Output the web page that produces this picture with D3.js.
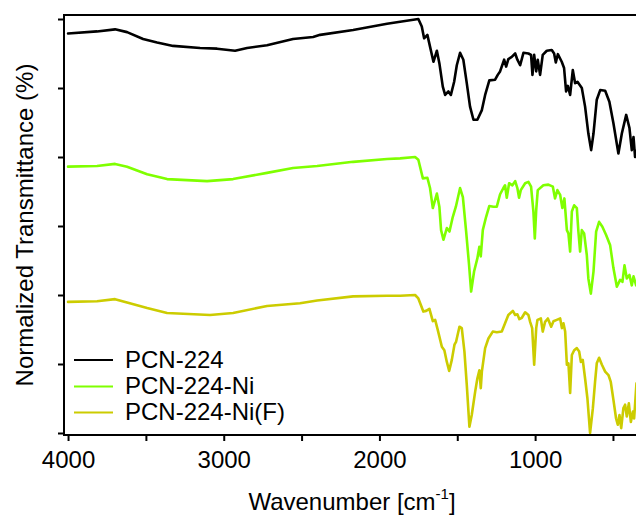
<!DOCTYPE html>
<html><head><meta charset="utf-8">
<script src="https://cdn.jsdelivr.net/npm/d3@7"></script>
<style>
body{margin:0;background:#fff}
svg{display:block}
text{font-family:"Liberation Sans",Arial,Helvetica,sans-serif;fill:#000}
</style>
</head><body>
<svg id="chart" width="636" height="516"></svg>
<script>
// ---- data ----
const seriesNames = ["PCN-224", "PCN-224-Ni", "PCN-224-Ni(F)"];
const seriesColors = ["#000000", "#7fff00", "#cccc00"];
const xMajorTicks = [4000, 3000, 2000, 1000];
const xMinorTicks = [3500, 2500, 1500, 500];
const yTicks = [0, 1, 2, 3, 4, 5, 6];

// [wavenumber (cm-1), normalized transmittance (offset units)]
const pcn224 = [
[4000,5.79],[3814,5.82],[3698,5.85],[3621,5.81],[3518,5.71],[3428,5.66],[3325,5.61],[3152,5.58],[3043,5.57],[2927,5.54],
[2850,5.58],[2722,5.62],[2555,5.71],[2426,5.74],[2381,5.77],[2169,5.84],[1951,5.93],[1867,5.96],[1750,6.00],[1728,5.89],
[1713,5.72],[1692,5.77],[1675,5.60],[1653,5.38],[1631,5.54],[1615,5.36],[1593,5.02],[1578,4.90],[1557,4.95],[1541,4.90],
[1520,5.09],[1503,5.33],[1482,5.51],[1461,5.41],[1439,5.07],[1418,4.73],[1396,4.54],[1371,4.54],[1342,4.68],[1321,4.90],
[1294,5.11],[1257,5.12],[1240,5.19],[1225,5.24],[1199,5.41],[1186,5.31],[1172,5.42],[1150,5.45],[1128,5.50],[1114,5.41],
[1096,5.33],[1075,5.51],[1043,5.50],[1026,5.48],[1017,5.19],[1006,5.48],[993,5.24],[983,5.41],[968,5.19],[951,5.48],
[925,5.54],[893,5.55],[878,5.50],[867,5.37],[854,5.49],[829,5.38],[814,5.29],[801,4.95],[790,5.03],[775,4.90],
[758,5.26],[743,5.07],[728,5.09],[700,5.00],[679,4.73],[658,4.34],[640,4.10],[625,4.34],[604,4.83],[582,4.97],
[550,4.96],[523,4.80],[497,4.49],[465,4.05],[443,4.34],[415,4.61],[394,4.42],[379,4.10],[368,4.29],[358,4.00],[345,4.10]
];
const pcn224Ni = [
[4000,3.86],[3814,3.87],[3698,3.90],[3621,3.86],[3492,3.75],[3364,3.68],[3107,3.65],[2940,3.68],[2722,3.77],[2555,3.84],
[2400,3.87],[2169,3.93],[1951,3.97],[1867,3.98],[1771,4.00],[1750,3.96],[1721,3.69],[1692,3.70],[1675,3.55],[1657,3.26],
[1631,3.47],[1615,3.28],[1604,2.94],[1589,2.80],[1567,2.97],[1550,2.92],[1529,3.13],[1509,3.28],[1482,3.55],[1464,3.42],
[1443,2.92],[1424,2.43],[1411,2.05],[1392,2.34],[1371,2.53],[1358,2.70],[1349,2.56],[1336,2.94],[1315,3.13],[1294,3.29],
[1268,3.28],[1246,3.28],[1225,3.46],[1204,3.55],[1193,3.59],[1182,3.41],[1167,3.62],[1146,3.59],[1128,3.65],[1114,3.55],
[1103,3.41],[1092,3.52],[1064,3.62],[1043,3.64],[1026,3.57],[1011,3.21],[1002,2.82],[993,3.23],[983,3.52],[947,3.59],
[915,3.60],[886,3.57],[872,3.40],[857,3.52],[839,3.45],[825,3.26],[812,3.40],[796,2.94],[786,2.89],[775,2.63],
[764,3.21],[749,3.30],[732,3.26],[722,2.92],[711,2.63],[700,2.94],[685,2.89],[668,2.58],[658,2.24],[642,2.02],
[625,2.34],[608,2.92],[589,3.06],[568,2.99],[544,2.87],[518,2.72],[497,2.39],[475,2.12],[454,2.22],[439,2.19],
[426,2.43],[411,2.24],[394,2.29],[379,2.14],[368,2.27],[351,2.14]
];
const pcn224NiF = [
[4000,1.90],[3814,1.91],[3698,1.94],[3621,1.89],[3492,1.81],[3364,1.74],[3088,1.71],[2940,1.74],[2722,1.84],[2510,1.88],
[2400,1.92],[2169,1.98],[1951,1.99],[1867,1.99],[1771,2.00],[1750,1.95],[1718,1.76],[1700,1.77],[1679,1.80],[1657,1.62],
[1642,1.64],[1625,1.49],[1599,1.25],[1583,1.20],[1567,1.03],[1552,0.90],[1535,1.06],[1518,1.28],[1508,1.32],[1486,1.54],
[1471,1.52],[1454,1.18],[1439,0.70],[1422,0.09],[1407,0.26],[1385,0.60],[1371,0.79],[1358,0.91],[1349,0.65],[1342,0.89],
[1321,1.23],[1300,1.37],[1272,1.47],[1246,1.46],[1214,1.47],[1193,1.59],[1172,1.71],[1143,1.77],[1128,1.71],[1114,1.72],
[1101,1.65],[1085,1.67],[1064,1.75],[1043,1.71],[1032,1.61],[1019,1.52],[1006,0.99],[993,1.52],[985,1.64],[963,1.66],
[951,1.47],[936,1.61],[918,1.66],[897,1.54],[882,1.62],[861,1.64],[839,1.66],[828,1.52],[818,1.59],[807,1.47],
[796,0.99],[786,1.01],[775,0.58],[764,1.13],[749,1.20],[732,1.23],[717,1.18],[706,1.03],[694,1.06],[679,0.79],
[664,0.50],[647,0.00],[629,0.36],[615,0.74],[604,1.01],[589,1.09],[571,0.99],[550,0.89],[529,0.84],[514,0.74],
[497,0.48],[480,0.21],[469,0.12],[458,0.26],[447,0.07],[433,0.36],[422,0.41],[411,0.24],[398,0.43],[385,0.16],
[372,0.31],[364,0.21],[349,0.72]
];
const allSeries = [pcn224, pcn224Ni, pcn224NiF];

// ---- layout ----
const mLeft = 64, mRight = 636, mTop = 15, mBottom = 435;
const svg = d3.select("#chart");

const x = d3.scaleLinear().domain([4026, 352]).range([mLeft, mRight]);
const y = d3.scaleLinear().domain([0, 6]).range([433, 19]);

svg.append("defs").append("clipPath").attr("id", "plotclip")
  .append("rect").attr("x", mLeft).attr("y", mTop).attr("width", mRight - mLeft + 10).attr("height", mBottom - mTop);

// traces
const line = d3.line().x(d => x(d[0])).y(d => y(d[1]));
const g = svg.append("g").attr("clip-path", "url(#plotclip)");
allSeries.forEach((s, i) => {
  g.append("path").datum(s).attr("d", line)
    .attr("fill", "none").attr("stroke", seriesColors[i])
    .attr("stroke-width", 2.6).attr("stroke-linejoin", "round").attr("stroke-linecap", "round");
});

// frame
svg.append("line").attr("x1", mLeft).attr("x2", mRight + 5).attr("y1", mTop).attr("y2", mTop)
  .attr("stroke", "#000").attr("stroke-width", 2);
svg.append("line").attr("x1", mLeft).attr("x2", mLeft).attr("y1", mTop - 1).attr("y2", mBottom + 1)
  .attr("stroke", "#000").attr("stroke-width", 2);
svg.append("line").attr("x1", mLeft - 1).attr("x2", mRight + 5).attr("y1", mBottom).attr("y2", mBottom)
  .attr("stroke", "#000").attr("stroke-width", 2);

// y ticks (no labels)
const yAx = svg.append("g").attr("transform", `translate(${mLeft},0)`)
  .call(d3.axisLeft(y).tickValues(yTicks).tickSize(6).tickFormat(""));
yAx.select(".domain").remove();
yAx.selectAll(".tick line").attr("stroke-width", 2);

// x axis
const xAx = svg.append("g").attr("transform", `translate(0,${mBottom})`)
  .call(d3.axisBottom(x).tickValues(xMajorTicks).tickSize(6).tickPadding(10).tickFormat(d3.format("d")));
xAx.select(".domain").remove();
xAx.selectAll(".tick line").attr("stroke-width", 2);
xAx.selectAll(".tick text").attr("font-size", 24).attr("font-family", "'Liberation Sans',Arial,Helvetica,sans-serif").attr("fill", "#000");
const xMin = svg.append("g").attr("transform", `translate(0,${mBottom})`)
  .call(d3.axisBottom(x).tickValues(xMinorTicks).tickSize(6).tickFormat(""));
xMin.select(".domain").remove();
xMin.selectAll(".tick line").attr("stroke-width", 2);

// axis titles
const xt = svg.append("text").attr("x", 352).attr("y", 510).attr("text-anchor", "middle").attr("font-size", 24);
xt.append("tspan").text("Wavenumber [cm");
xt.append("tspan").attr("dy", -11).attr("font-size", 15).text("-1");
xt.append("tspan").attr("dy", 11).text("]");

svg.append("text").attr("transform", "rotate(-90)").attr("x", -225).attr("y", 33)
  .attr("text-anchor", "middle").attr("font-size", 24).text("Normalized Transmittance (%)");

// legend
const legY = [360, 386.5, 412.5];
seriesNames.forEach((n, i) => {
  svg.append("line").attr("x1", 74).attr("x2", 113).attr("y1", legY[i]).attr("y2", legY[i])
    .attr("stroke", seriesColors[i]).attr("stroke-width", 2);
  svg.append("text").attr("x", 125).attr("y", legY[i] + 7.5).attr("font-size", 24).text(n);
});
</script>
</body></html>
